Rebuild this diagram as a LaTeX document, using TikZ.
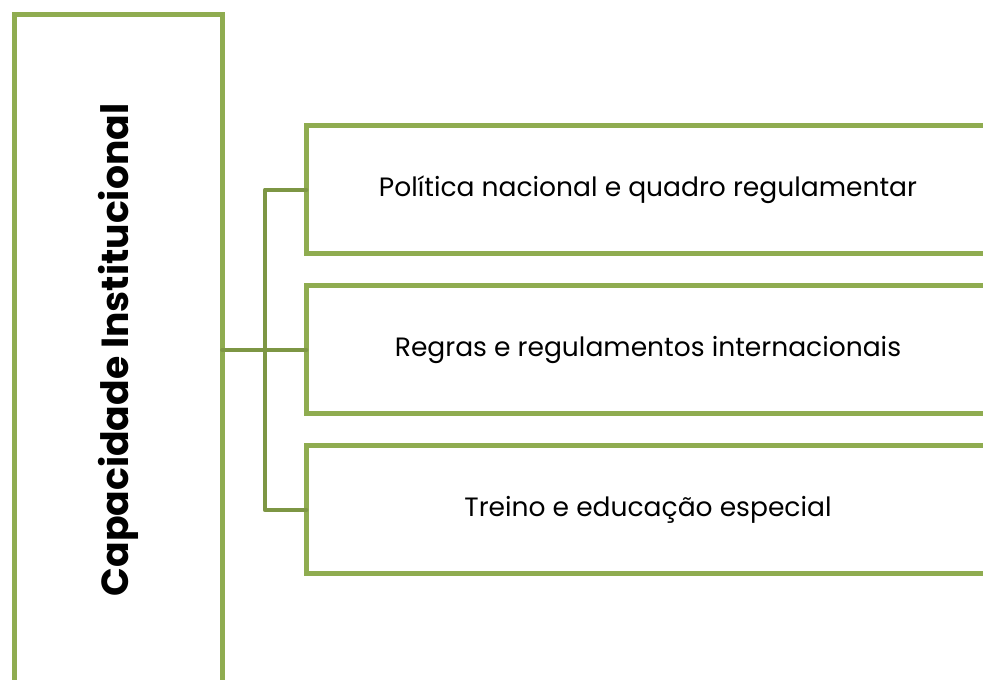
\documentclass[tikz,border=0pt]{standalone}
\usepackage{fontspec}
\setmainfont{Poppins}
\usetikzlibrary{positioning}

\definecolor{boxgreen}{RGB}{143,172,80}
\definecolor{linkgreen}{RGB}{125,150,68}

\tikzset{every picture/.style={line width=0.75pt}}
\tikzset{
  leftbox/.style={draw=boxgreen, line width=3.75pt, outer sep=0pt, inner sep=0pt,
    minimum width=156pt, minimum height=502.5pt},
  itembox/.style={draw=boxgreen, line width=3.75pt, outer sep=0pt, inner sep=0pt,
    minimum width=513pt, minimum height=96pt, font=\fontsize{19.9}{24}\selectfont},
  link/.style={draw=linkgreen, line width=3.6pt, line cap=round, line join=round}
}

\begin{document}
\begin{tikzpicture}[x=0.75pt,y=0.75pt,yscale=-1,xscale=1]
        \useasboundingbox (0,0) rectangle (983,680);
        \clip (0,0) rectangle (983,680);

        %Shape: Rectangle
        \node [leftbox] (cap) at (118.5,350) {};
        % Text Node
        \node [rotate=90, font=\bfseries\fontsize{28.3}{33}\selectfont] (captext) at (cap.center) {Capacidade Institucional};

        %Shape: Rectangle
        \node [itembox] (pol) at (648,190) {Política nacional e quadro regulamentar};
        %Shape: Rectangle
        \node [itembox] (reg) at (648,350) {Regras e regulamentos internacionais};
        %Shape: Rectangle
        \node [itembox] (tre) at (648,510) {Treino e educação especial};

        %Straight Lines
        \coordinate (fork) at (265,350);
        \draw [link] (cap.east) -- (fork) -- (reg.west);
        \draw [link] (fork) |- (pol.west);
        \draw [link] (fork) |- (tre.west);

\end{tikzpicture}
\end{document}
